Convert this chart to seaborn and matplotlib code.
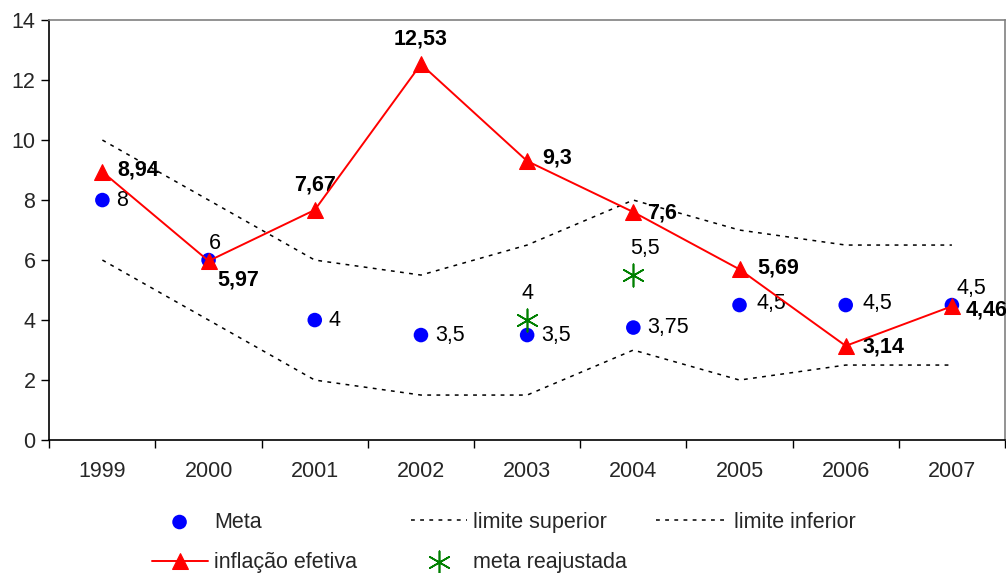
import numpy as np
import pandas as pd
import seaborn as sns
import matplotlib.pyplot as plt
from matplotlib.ticker import FixedLocator

anos = ['1999', '2000', '2001', '2002', '2003', '2004', '2005', '2006', '2007']
meta = [8, 6, 4, 3.5, 3.5, 3.75, 4.5, 4.5, 4.5]
limite_superior = [10, 8, 6, 5.5, 6.5, 8, 7, 6.5, 6.5]
limite_inferior = [6, 4, 2, 1.5, 1.5, 3, 2, 2.5, 2.5]
inflacao = [8.94, 5.97, 7.67, 12.53, 9.3, 7.6, 5.69, 3.14, 4.46]
meta_reaj_anos = ['2003', '2004']
meta_reaj = [4, 5.5]


def br(v):
    return ('%g' % v).replace('.', ',')


sns.set_theme(style="white")
plt.rcParams['font.family'] = ['Liberation Sans', 'DejaVu Sans']

df = pd.DataFrame({'ano': anos, 'meta': meta, 'sup': limite_superior,
                   'inf': limite_inferior, 'infl': inflacao})
df['x'] = np.arange(len(anos))
dr = pd.DataFrame({'ano': meta_reaj_anos, 'v': meta_reaj})
dr['x'] = [anos.index(a) for a in meta_reaj_anos]

fig = plt.figure(figsize=(10.06, 5.73), dpi=100)
ax = fig.add_axes([0.049, 0.232, 0.950, 0.733])

pontilhado = (0, (2.5, 3.5))
sns.lineplot(data=df, x='x', y='sup', ax=ax, color='black', lw=1.1,
             linestyle=pontilhado, label='limite superior')
sns.lineplot(data=df, x='x', y='inf', ax=ax, color='black', lw=1.1,
             linestyle=pontilhado, label='limite inferior')
sns.scatterplot(data=df, x='x', y='meta', ax=ax, color='#0000ff', s=110,
                edgecolor='none', label='Meta', zorder=3)
sns.lineplot(data=df, x='x', y='infl', ax=ax, color='#ff0000', lw=1.4,
             marker='^', markersize=12, markeredgecolor='#ff0000',
             label='inflação efetiva', zorder=4)
sns.scatterplot(data=dr, x='x', y='v', ax=ax, color='#008000', marker=(6, 2, 0),
                s=260, linewidth=1.2, label='meta reajustada', zorder=3)

fs = 15.5
# rotulos da inflacao (negrito)
offs_infl = [(11, 1), (6, -14), (0, 18), (0, 18), (11, 2), (10, -1), (13, 1), (12, -1), (10, -3)]
for i, v in enumerate(inflacao):
    dx, dy = offs_infl[i]
    ax.annotate(br(v), (i, v), xytext=(dx, dy), textcoords='offset points',
                fontsize=fs, fontweight='bold', ha='left' if dx > 5 else 'center',
                va='center', color='black')
# rotulos da meta
offs_meta = [(10, 0), (0, 12), (10, 0), (10, 0), (10, 0), (10, 0), (12, 1), (12, 1), (3, 12)]
for i, v in enumerate(meta):
    dx, dy = offs_meta[i]
    ax.annotate(br(v), (i, v), xytext=(dx, dy), textcoords='offset points',
                fontsize=fs, ha='left', va='center', color='black')
for x, v in zip(dr['x'], meta_reaj):
    ax.annotate(br(v), (x, v), xytext=(0 if v < 5 else -2, 19), textcoords='offset points',
                fontsize=fs, ha='left' if v >= 5 else 'center', va='center', color='black')

ax.set_xlim(-0.5, len(anos) - 0.5)
ax.set_ylim(0, 14)
ax.set_yticks(range(0, 15, 2))
ax.set_xticks(df['x'])
ax.set_xticklabels(anos)
ax.xaxis.set_minor_locator(FixedLocator(np.arange(-0.5, len(anos), 1)))
ax.tick_params(axis='x', which='major', length=0, pad=15, labelsize=fs)
ax.tick_params(axis='x', which='minor', length=6, width=1, color='black', bottom=True)
ax.tick_params(axis='y', length=6, width=1, color='black', left=True, labelsize=fs, pad=4)
ax.set_xlabel('')
ax.set_ylabel('')
for s in ['left', 'bottom']:
    ax.spines[s].set_color('black')
    ax.spines[s].set_linewidth(1.2)
for s in ['top', 'right']:
    ax.spines[s].set_color('#808080')
    ax.spines[s].set_linewidth(1.2)

h, l = ax.get_legend_handles_labels()
hm = dict(zip(l, h))
ordem = ['Meta', 'inflação efetiva', 'limite superior', 'meta reajustada']
leg1 = ax.legend([hm[k] for k in ordem], ordem, ncol=2, loc='upper left',
                 bbox_to_anchor=(0.098, -0.150), frameon=False, fontsize=fs,
                 handlelength=2.6, handletextpad=0.3, columnspacing=2.5, labelspacing=0.9,
                 borderaxespad=0)
ax.add_artist(leg1)
ax.legend([hm['limite inferior']], ['limite inferior'], loc='upper left',
          bbox_to_anchor=(0.626, -0.150), frameon=False, fontsize=fs,
          handlelength=3.3, handletextpad=0.3, borderaxespad=0)

fig.savefig('out.png', dpi=100)
plt.close('all')
